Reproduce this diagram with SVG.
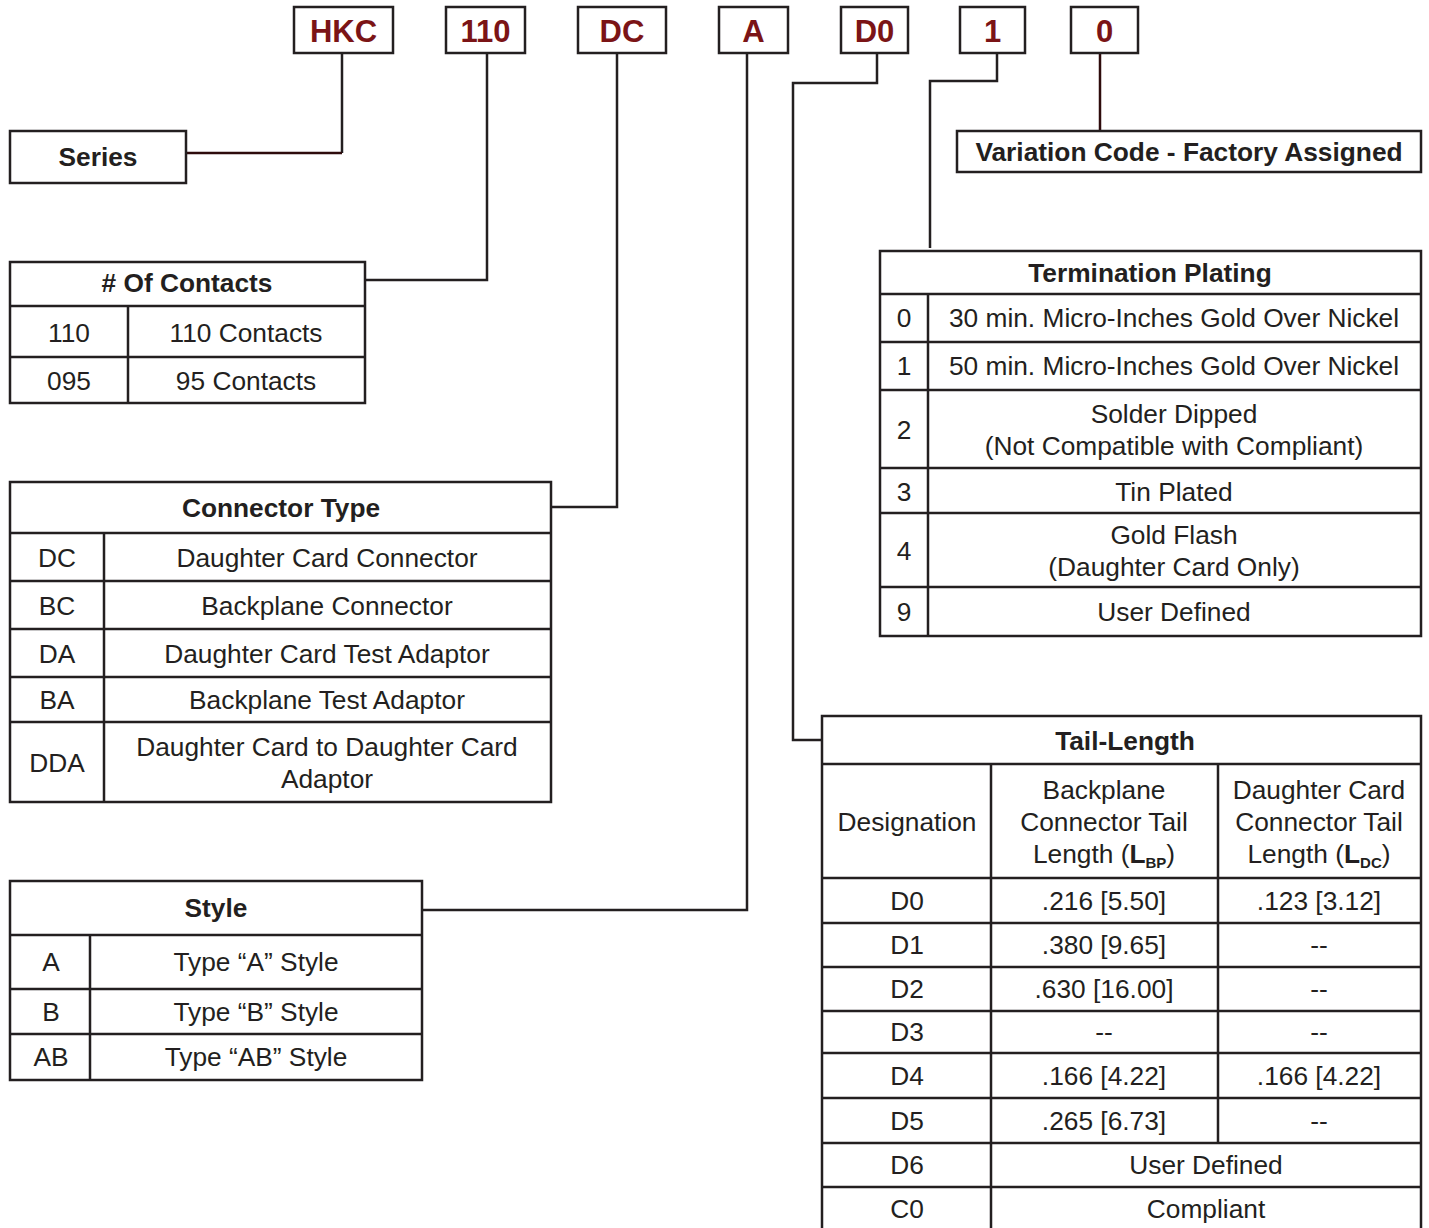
<svg xmlns="http://www.w3.org/2000/svg" width="1429" height="1228" viewBox="0 0 1429 1228">
<style>
text{font-family:"Liberation Sans",Arial,sans-serif;fill:#231f20;font-size:26.3px;text-anchor:middle}
.b{font-weight:bold}
.code{font-weight:bold;font-size:31px;fill:#7b1416}
.box{fill:#fff;stroke:#231f20;stroke-width:2.5}
.ln{fill:none;stroke:#231f20;stroke-width:2.5}
.con{fill:none;stroke:#231f20;stroke-width:2.5}
.conr{fill:none;stroke:#2e0b0c;stroke-width:2.5}
.sub{font-weight:bold;font-size:15px}
</style>
<rect width="1429" height="1228" fill="#fff"/>
<g id="connectors">
<path class="con" d="M342,53 V153"/>
<path class="conr" d="M342,153 H187"/>
<path class="con" d="M487,53 V280 H365"/>
<path class="con" d="M617,53 V507 H551"/>
<path class="con" d="M747,53 V910 H422"/>
<path class="con" d="M877,53 V83 H793 V740 H822"/>
<path class="con" d="M997,53 V81 H930 V248"/>
<path class="conr" d="M1100,53 V131"/>
</g>
<g id="code-HKC"><rect class="box" x="294" y="7" width="99" height="46"/><text class="code" x="343.5" y="42">HKC</text></g>
<g id="code-110"><rect class="box" x="446" y="7" width="79" height="46"/><text class="code" x="485.5" y="42">110</text></g>
<g id="code-DC"><rect class="box" x="578" y="7" width="88" height="46"/><text class="code" x="622" y="42">DC</text></g>
<g id="code-A"><rect class="box" x="719" y="7" width="69" height="46"/><text class="code" x="753.5" y="42">A</text></g>
<g id="code-D0"><rect class="box" x="841" y="7" width="67" height="46"/><text class="code" x="874.5" y="42">D0</text></g>
<g id="code-1"><rect class="box" x="960" y="7" width="65" height="46"/><text class="code" x="992.5" y="42">1</text></g>
<g id="code-0"><rect class="box" x="1071" y="7" width="67" height="46"/><text class="code" x="1104.5" y="42">0</text></g>

<g id="series"><rect class="box" x="10" y="131" width="176" height="52"/><text class="b" x="98" y="166">Series</text></g>

<g id="variation"><rect class="box" x="957" y="131" width="464" height="41"/><text class="b" x="1189" y="161">Variation Code - Factory Assigned</text></g>

<g id="contacts">
<rect class="box" x="10" y="262" width="355" height="141"/>
<path class="ln" d="M10,306 H365 M10,357 H365 M128,306 V403"/>
<text class="b" x="187" y="292"># Of Contacts</text>
<text x="69" y="342">110</text><text x="246" y="342">110 Contacts</text>
<text x="69" y="390">095</text><text x="246" y="390">95 Contacts</text>
</g>

<g id="connector-type">
<rect class="box" x="10" y="482" width="541" height="320"/>
<path class="ln" d="M10,533 H551 M10,581 H551 M10,629 H551 M10,677 H551 M10,722 H551 M104,533 V802"/>
<text class="b" x="281" y="517">Connector Type</text>
<text x="57" y="567">DC</text><text x="327" y="567">Daughter Card Connector</text>
<text x="57" y="615">BC</text><text x="327" y="615">Backplane Connector</text>
<text x="57" y="663">DA</text><text x="327" y="663">Daughter Card Test Adaptor</text>
<text x="57" y="709">BA</text><text x="327" y="709">Backplane Test Adaptor</text>
<text x="57" y="772">DDA</text><text x="327" y="756">Daughter Card to Daughter Card</text><text x="327" y="788">Adaptor</text>
</g>

<g id="style">
<rect class="box" x="10" y="881" width="412" height="199"/>
<path class="ln" d="M10,935 H422 M10,989 H422 M10,1034 H422 M90,935 V1080"/>
<text class="b" x="216" y="917">Style</text>
<text x="51" y="971">A</text><text x="256" y="971">Type “A” Style</text>
<text x="51" y="1021">B</text><text x="256" y="1021">Type “B” Style</text>
<text x="51" y="1066">AB</text><text x="256" y="1066">Type “AB” Style</text>
</g>

<g id="termination-plating">
<rect class="box" x="880" y="251" width="541" height="385"/>
<path class="ln" d="M880,294 H1421 M880,342 H1421 M880,390 H1421 M880,468 H1421 M880,513 H1421 M880,587 H1421 M928,294 V636"/>
<text class="b" x="1150" y="282">Termination Plating</text>
<text x="904" y="327">0</text><text x="1174" y="327">30 min. Micro-Inches Gold Over Nickel</text>
<text x="904" y="375">1</text><text x="1174" y="375">50 min. Micro-Inches Gold Over Nickel</text>
<text x="904" y="439">2</text><text x="1174" y="423">Solder Dipped</text><text x="1174" y="455">(Not Compatible with Compliant)</text>
<text x="904" y="501">3</text><text x="1174" y="501">Tin Plated</text>
<text x="904" y="560">4</text><text x="1174" y="544">Gold Flash</text><text x="1174" y="576">(Daughter Card Only)</text>
<text x="904" y="621">9</text><text x="1174" y="621">User Defined</text>
</g>

<g id="tail-length">
<rect class="box" x="822" y="716" width="599" height="530"/>
<path class="ln" d="M822,764 H1421 M822,878 H1421 M822,923 H1421 M822,967 H1421 M822,1011 H1421 M822,1053 H1421 M822,1098 H1421 M822,1143 H1421 M822,1187 H1421 M991,764 V1246 M1218,764 V1143"/>
<text class="b" x="1125" y="750">Tail-Length</text>
<text x="907" y="831">Designation</text>
<text x="1104" y="799">Backplane</text><text x="1104" y="831">Connector Tail</text>
<text x="1104" y="863">Length (<tspan class="b">L</tspan><tspan class="sub" dy="5">BP</tspan><tspan dy="-5">)</tspan></text>
<text x="1319" y="799">Daughter Card</text><text x="1319" y="831">Connector Tail</text>
<text x="1319" y="863">Length (<tspan class="b">L</tspan><tspan class="sub" dy="5">DC</tspan><tspan dy="-5">)</tspan></text>
<text x="907" y="910">D0</text><text x="1104" y="910">.216 [5.50]</text><text x="1319" y="910">.123 [3.12]</text>
<text x="907" y="954">D1</text><text x="1104" y="954">.380 [9.65]</text><text x="1319" y="954">--</text>
<text x="907" y="998">D2</text><text x="1104" y="998">.630 [16.00]</text><text x="1319" y="998">--</text>
<text x="907" y="1041">D3</text><text x="1104" y="1041">--</text><text x="1319" y="1041">--</text>
<text x="907" y="1085">D4</text><text x="1104" y="1085">.166 [4.22]</text><text x="1319" y="1085">.166 [4.22]</text>
<text x="907" y="1130">D5</text><text x="1104" y="1130">.265 [6.73]</text><text x="1319" y="1130">--</text>
<text x="907" y="1174">D6</text><text x="1206" y="1174">User Defined</text>
<text x="907" y="1218">C0</text><text x="1206" y="1218">Compliant</text>
</g>
</svg>
